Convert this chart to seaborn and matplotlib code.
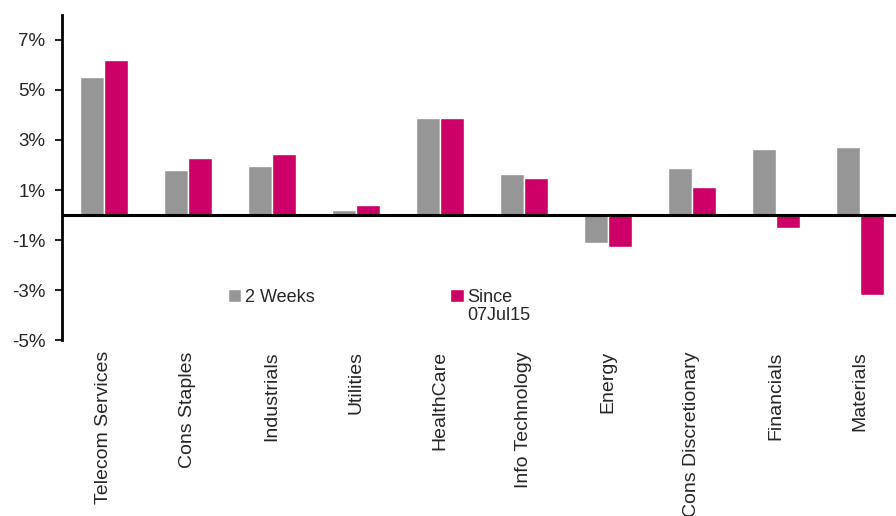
import pandas as pd
import seaborn as sns
import matplotlib.pyplot as plt
from matplotlib.ticker import FuncFormatter

# data (percent)
sectors = ["Telecom Services", "Cons Staples", "Industrials", "Utilities", "HealthCare",
           "Info Technology", "Energy", "Cons Discretionary", "Financials", "Materials"]
two_weeks = [5.52, 1.80, 1.96, 0.20, 3.88, 1.64, -1.12, 1.88, 2.64, 2.72]
since_jul = [6.20, 2.28, 2.44, 0.40, 3.88, 1.48, -1.28, 1.12, -0.52, -3.20]
series_names = ["2 Weeks", "Since 07Jul15"]
y_ticks = [-5, -3, -1, 1, 3, 5, 7]

df = pd.DataFrame({
    "sector": sectors * 2,
    "value": two_weeks + since_jul,
    "series": [series_names[0]] * len(sectors) + [series_names[1]] * len(sectors),
})

sns.set_style("white")
plt.rcParams["font.family"] = ["Liberation Sans", "DejaVu Sans"]

fig = plt.figure(figsize=(8.96, 5.16), dpi=100)
ax = fig.add_axes([0.069, 0.341, 0.931, 0.630])

sns.barplot(data=df, x="sector", y="value", hue="series", order=sectors,
            hue_order=series_names, palette=["#969696", "#CC0066"],
            width=0.57, saturation=1, ax=ax)

ax.set_ylim(-5, 8)
ax.set_xlim(-0.5, 9.43)
ax.set_yticks(y_ticks)
ax.yaxis.set_major_formatter(FuncFormatter(lambda v, _: f"{v:.0f}%"))
ax.tick_params(axis="y", labelsize=13.5, length=5, width=1.5, direction="out", left=True, pad=7)
ax.tick_params(axis="x", labelsize=14, length=0, pad=8)
plt.setp(ax.get_xticklabels(), rotation=90, va="top", ha="center")
ax.set_xlabel("")
ax.set_ylabel("")

for side in ["top", "right", "bottom"]:
    ax.spines[side].set_visible(False)
ax.spines["left"].set_linewidth(2)
ax.spines["left"].set_color("black")
ax.axhline(0, color="black", linewidth=2.2, zorder=5)

# legend: second label wraps onto two lines, handle sits next to the first line
handles, _ = ax.get_legend_handles_labels()
leg = ax.legend(handles, ["2 Weeks", "Since"], loc="upper left",
                bbox_to_anchor=(0.199, 0.157), ncol=2, frameon=False,
                fontsize=13, handlelength=0.75, handleheight=0.75, handletextpad=0.2,
                columnspacing=7.5, borderpad=0, borderaxespad=0)
fig.canvas.draw()
since_text = leg.get_texts()[1]
ax.annotate("07Jul15", xy=(0, 0), xycoords=since_text, xytext=(0, -1),
            textcoords="offset points", ha="left", va="top", fontsize=13, zorder=10)

fig.savefig("out.png", dpi=100)
